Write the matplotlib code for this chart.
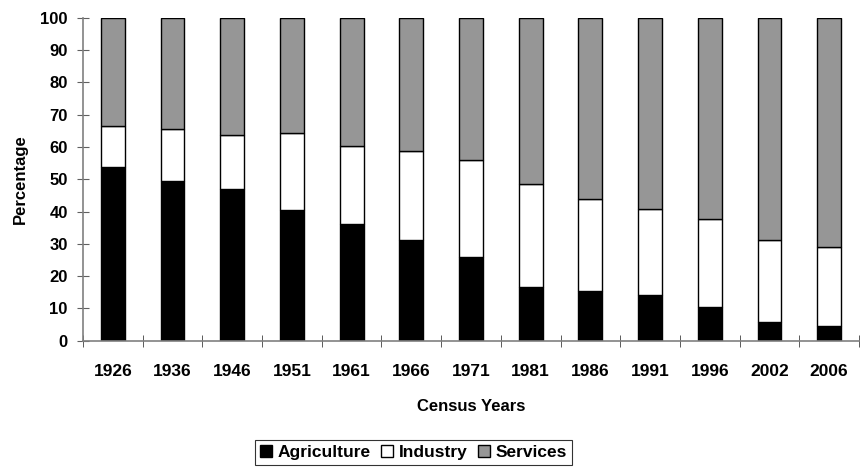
import numpy as np
import matplotlib.pyplot as plt

# census years and sector shares (%)
years = ['1926', '1936', '1946', '1951', '1961', '1966', '1971',
         '1981', '1986', '1991', '1996', '2002', '2006']
agriculture = [53.7, 49.5, 47.0, 40.5, 36.1, 31.2, 25.8, 16.7, 15.4, 14.0, 10.4, 5.9, 4.5]
industry_top = [66.5, 65.5, 63.8, 64.2, 60.3, 58.8, 56.1, 48.6, 44.0, 40.8, 37.7, 31.1, 29.1]

industry = [t - a for t, a in zip(industry_top, agriculture)]
services = [100 - t for t in industry_top]

plt.rcParams['font.family'] = ['Liberation Sans', 'DejaVu Sans']
plt.rcParams['font.weight'] = 'bold'

fig = plt.figure(figsize=(8.63, 4.68), dpi=100)
ax = fig.add_axes([0.0962, 0.272, 0.8992, 0.690])

x = np.arange(len(years))
w = 0.4
ax.bar(x, agriculture, w, color='black', edgecolor='black', linewidth=1, label='Agriculture')
ax.bar(x, industry, w, bottom=agriculture, color='white', edgecolor='black', linewidth=1, label='Industry')
ax.bar(x, services, w, bottom=industry_top, color='#969696', edgecolor='black', linewidth=1, label='Services')

ax.set_xlim(-0.5, len(years) - 0.5)
ax.set_ylim(0, 100)
ax.set_yticks(range(0, 101, 10))
ax.set_xticks(x)
ax.set_xticklabels(years)
ax.set_xticks(np.arange(-0.5, len(years)), minor=True)

for s in ['top', 'right']:
    ax.spines[s].set_visible(False)
for s in ['left', 'bottom']:
    ax.spines[s].set_color('#808080')
    ax.spines[s].set_linewidth(1.2)

ax.tick_params(axis='y', direction='inout', length=8, color='#606060', labelsize=12, pad=7)
ax.tick_params(axis='x', which='major', length=0, labelsize=12.5, pad=17)
ax.tick_params(axis='x', which='minor', direction='inout', length=8, color='#404040')

ax.set_ylabel('Percentage', fontsize=12, fontweight='bold', labelpad=9)
ax.set_xlabel('Census Years', fontsize=12, fontweight='bold', labelpad=14)

leg = fig.legend(loc='center', bbox_to_anchor=(0.479, 0.033), ncol=3, frameon=True,
                 fancybox=False, edgecolor='black', fontsize=12.5, handlelength=0.7,
                 handleheight=0.7, handletextpad=0.3, columnspacing=0.6,
                 borderpad=0.3)
leg.get_frame().set_linewidth(0.8)

fig.savefig('out.png', dpi=100)
